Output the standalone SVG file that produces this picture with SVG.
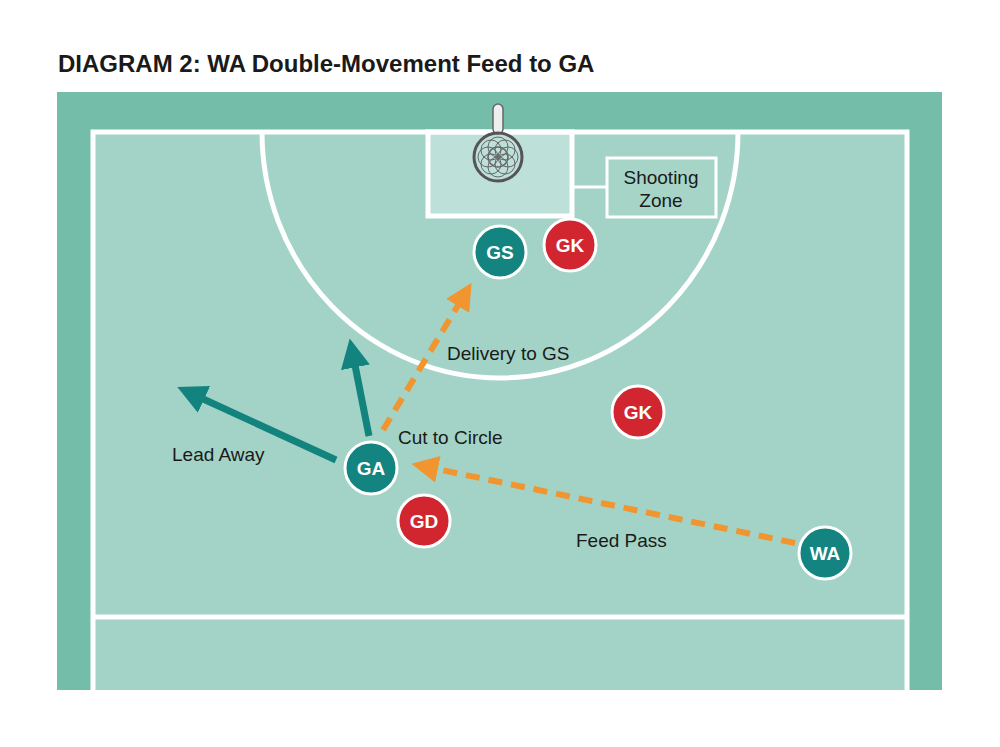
<svg xmlns="http://www.w3.org/2000/svg" width="1000" height="747" viewBox="0 0 1000 747">
<defs>
<marker id="ta" viewBox="0 0 10 10" refX="6" refY="5" markerWidth="4.2" markerHeight="4.2" orient="auto"><path d="M0,0L10,5L0,10z" fill="#12837e"/></marker>
<marker id="oa" viewBox="0 0 10 10" refX="6" refY="5" markerWidth="4.5" markerHeight="4.5" orient="auto"><path d="M0,0L10,5L0,10z" fill="#f0952f"/></marker>
</defs>
<style>
.ln{fill:none;stroke:#fff;stroke-width:5}
.t{font-family:"Liberation Sans",Arial,sans-serif;fill:#1a1a1a}
.lb{font-size:19px}
.nt{font-family:"Liberation Sans",Arial,sans-serif;font-weight:bold;font-size:19px;fill:#fff;text-anchor:middle}
.tm{fill:#13847f;stroke:#fff;stroke-width:3}
.op{fill:#d12530;stroke:#fff;stroke-width:3}
.tl{stroke:#13837e;stroke-width:7;fill:none}
.or{stroke:#f0952f;stroke-width:6;fill:none;stroke-dasharray:14 9}
</style>
<rect width="1000" height="747" fill="#fff"/>
<text class="t" x="58" y="72" font-size="24" font-weight="bold">DIAGRAM 2: WA Double-Movement Feed to GA</text>
<rect x="57" y="92" width="885" height="598" fill="#74bea9"/>
<rect x="93" y="132" width="814" height="558" fill="#a3d3c6"/>
<rect x="428" y="132" width="144" height="84" fill="#bde0d8"/>
<g class="ln">
<path d="M93,690V132H907V690"/>
<path d="M93,617H907"/>
<path d="M262,132A238,246 0 0 0 738,132"/>
<rect x="428" y="132" width="144" height="84"/>
<path d="M572,187H607" stroke-width="3"/>
<rect x="607" y="158" width="109" height="59" stroke-width="3" fill="#a6d5c8"/>
</g>
<g id="hoop">
<rect x="493" y="104" width="10" height="30" rx="5" fill="#eee" stroke="#666" stroke-width="1.5"/>
<circle cx="498" cy="157" r="24" fill="none" stroke="#555" stroke-width="3"/>
<circle cx="498" cy="157" r="10" fill="none" stroke="#666" stroke-width="1.5"/>
<g stroke="#666" stroke-width="1" fill="none">
<circle cx="498" cy="147" r="10"/><circle cx="508" cy="157" r="10"/><circle cx="498" cy="167" r="10"/><circle cx="488" cy="157" r="10"/>
<circle cx="505" cy="150" r="10"/><circle cx="505" cy="164" r="10"/><circle cx="491" cy="164" r="10"/><circle cx="491" cy="150" r="10"/>
</g>
</g>
<text class="t lb" x="661" y="184" text-anchor="middle">Shooting</text>
<text class="t lb" x="661" y="207" text-anchor="middle">Zone</text>
<g id="connectors">
<path class="tl" d="M336,460L188,392" marker-end="url(#ta)"/>
<path class="tl" d="M369,436L352,350" marker-end="url(#ta)"/>
<path class="or" d="M383,430L466,292" marker-end="url(#oa)"/>
<path class="or" d="M795,543L422,466" marker-end="url(#oa)"/>
</g>
<text class="t lb" x="172" y="461">Lead Away</text>
<text class="t lb" x="398" y="444">Cut to Circle</text>
<text class="t lb" x="447" y="360">Delivery to GS</text>
<text class="t lb" x="576" y="547">Feed Pass</text>
<g id="GS"><circle class="tm" cx="500" cy="252" r="26"/><text class="nt" x="500" y="259">GS</text></g>
<g id="GK1"><circle class="op" cx="570" cy="245" r="26"/><text class="nt" x="570" y="252">GK</text></g>
<g id="GK2"><circle class="op" cx="638" cy="412" r="26"/><text class="nt" x="638" y="419">GK</text></g>
<g id="GA"><circle class="tm" cx="371" cy="468" r="26"/><text class="nt" x="371" y="475">GA</text></g>
<g id="GD"><circle class="op" cx="424" cy="521" r="26"/><text class="nt" x="424" y="528">GD</text></g>
<g id="WA"><circle class="tm" cx="825" cy="553" r="26"/><text class="nt" x="825" y="560">WA</text></g>
</svg>
